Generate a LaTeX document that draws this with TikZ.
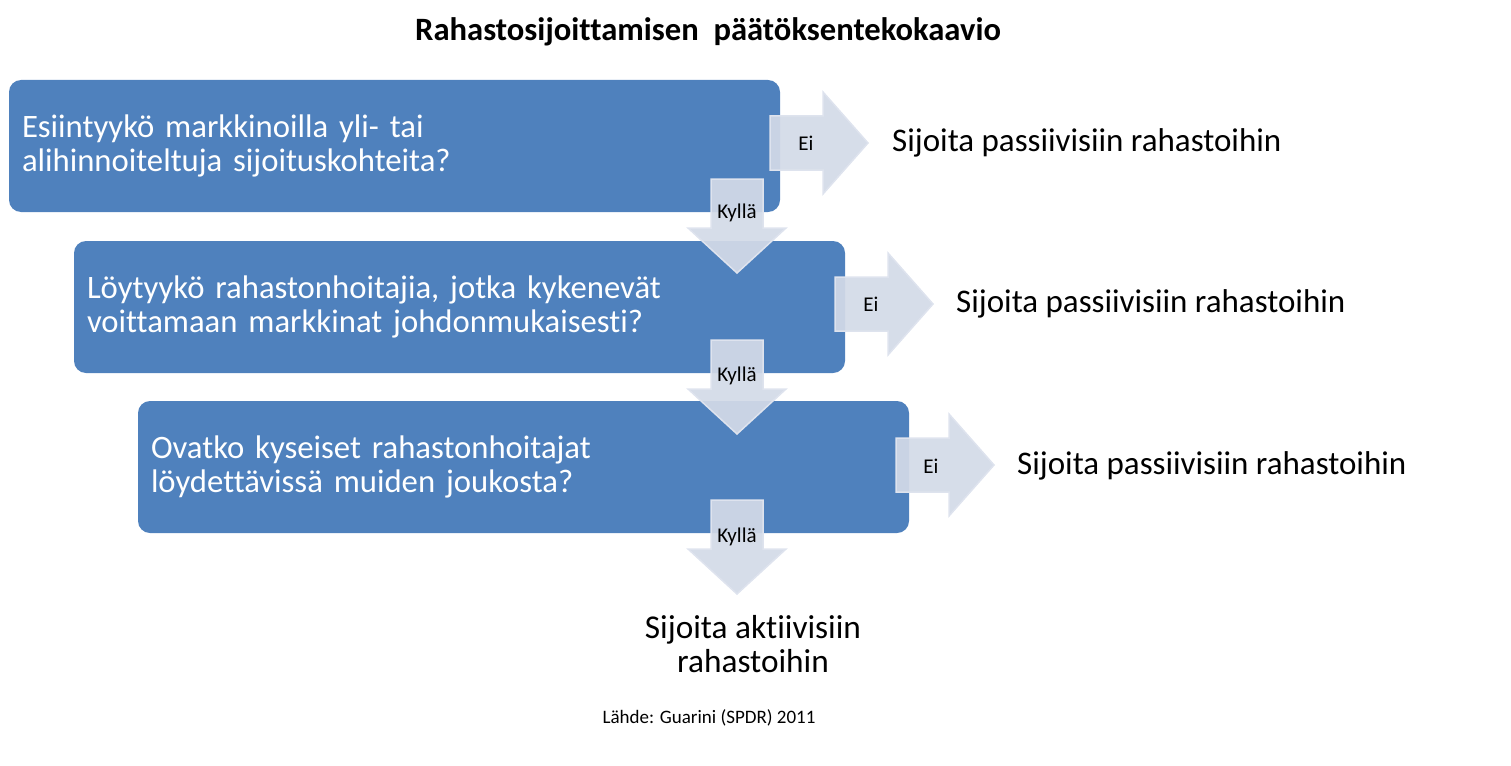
\documentclass[tikz,border=0pt]{standalone}
\usepackage{fontspec}
\setmainfont[Ligatures=NoCommon]{Carlito}
\definecolor{boxblue}{HTML}{4F81BD}
\definecolor{arrfill}{HTML}{D3DAE7}
\definecolor{arredge}{HTML}{DEE3EE}
\tikzset{
  qbox/.style={fill=boxblue, draw=none, rounded corners=12pt, text=white, align=left,
    text width=745pt, inner xsep=13pt, minimum height=132pt,
    font=\fontsize{32.7}{34}\selectfont},
  blockarrow/.style={fill=arrfill, draw=arredge, line width=1.5pt, fill opacity=0.93},
  arrlabel/.style={font=\fontsize{21}{24}\selectfont, text=black, inner sep=0pt},
  outtext/.style={font=\fontsize{33}{36}\selectfont, text=black, anchor=west, inner sep=0pt},
  pics/rarrow/.style={code={
    \path[blockarrow] (0,-27) -- (53,-27) -- (53,-51) -- (98,0) -- (53,51) -- (53,27) -- (0,27) -- cycle;}},
  pics/darrow/.style={code={
    \path[blockarrow] (-26,0) -- (26,0) -- (26,49) -- (49,49) -- (0,94) -- (-49,49) -- (-26,49) -- cycle;}}
}
\begin{document}
\begin{tikzpicture}[x=1pt,y=-1pt]
\useasboundingbox (0,0) rectangle (1511,765);
\node[font=\bfseries\fontsize{32.6}{36}\selectfont, inner sep=0pt] (title) at (708,32) {Rahastosijoittamisen\ \ päätöksentekokaavio};

\node[qbox] (q1) at (394.5,146) {Esiintyykö markkinoilla yli- tai\\alihinnoiteltuja sijoituskohteita?};
\node[qbox] (q2) at (459.5,307) {Löytyykö rahastonhoitajia, jotka kykenevät\\voittamaan markkinat johdonmukaisesti?};
\node[qbox] (q3) at (523.5,467) {Ovatko kyseiset rahastonhoitajat\\löydettävissä muiden joukosta?};

\pic at (770,143) {rarrow};
\pic at (835,304) {rarrow};
\pic at (896,465) {rarrow};
\pic at (737,179) {darrow};
\pic at (737,340) {darrow};
\pic at (737,500) {darrow};

\node[arrlabel] (e1) at (806,143) {Ei};
\node[arrlabel] (e2) at (871,304) {Ei};
\node[arrlabel] (e3) at (931,466) {Ei};
\node[arrlabel] (k1) at (737,213) {Kyllä};
\node[arrlabel] (k2) at (737,376) {Kyllä};
\node[arrlabel] (k3) at (737,537) {Kyllä};

\node[outtext] (p1) at (892,143) {Sijoita passiivisiin rahastoihin};
\node[outtext] (p2) at (956,304) {Sijoita passiivisiin rahastoihin};
\node[outtext] (p3) at (1017,466) {Sijoita passiivisiin rahastoihin};
\node[font=\fontsize{33.3}{34}\selectfont, align=center, inner sep=0pt] (a1) at (753,644) {Sijoita aktiivisiin\\rahastoihin};

\node[font=\fontsize{19}{22}\selectfont, inner sep=0pt] (src) at (709,718) {Lähde: Guarini (SPDR) 2011};
\end{tikzpicture}
\end{document}
